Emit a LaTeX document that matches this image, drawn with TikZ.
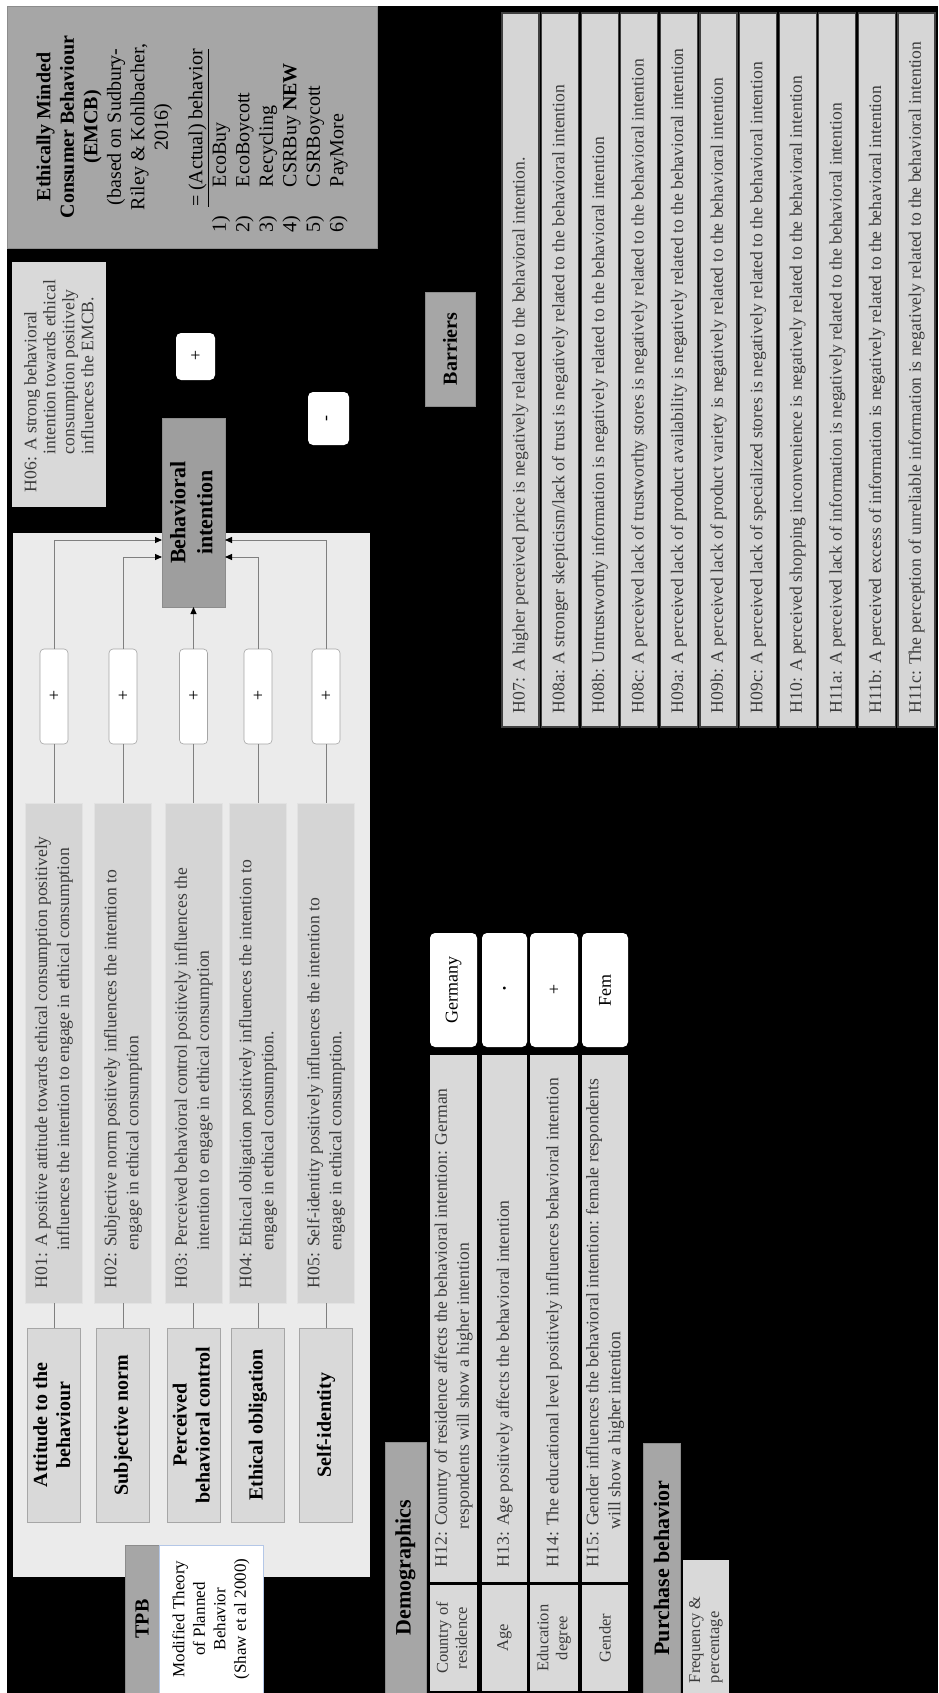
\documentclass[tikz,border=0pt]{standalone}
\usepackage{fontspec}
\setmainfont{Liberation Serif}
\usetikzlibrary{arrows.meta}
\definecolor{cHdr}{HTML}{A6A6A6}
\definecolor{cHdrLine}{HTML}{8C8C8C}
\definecolor{cBI}{HTML}{9E9E9E}
\definecolor{cLight}{HTML}{D9D9D9}
\definecolor{cHyp}{HTML}{D5D5D5}
\definecolor{cPanel}{HTML}{EBEBEB}
\definecolor{cCon}{HTML}{7F7F7F}
\definecolor{cTxt}{HTML}{3A3A3A}
\definecolor{cStrip}{HTML}{D6D6D6}
\definecolor{cStripLine}{HTML}{404040}
\definecolor{cBlue}{HTML}{B4C7E7}
\newcommand{\rt}[1]{\rotatebox{90}{#1}}
\newcommand{\fs}[2]{\fontsize{#1}{#2}\selectfont}
\newcommand{\lines}[1]{\begin{tabular}{@{}c@{}}#1\end{tabular}}
\newcommand{\hyptext}[3]{\rt{\parbox{#1pt}{\raggedright\fs{17.6}{22}\color{cTxt}#2\\\hspace*{38pt}#3}}}
\newcommand{\onetext}[2]{\rt{\parbox{#1pt}{\raggedright\fs{17.6}{22}\color{cTxt}#2}}}
\begin{document}
\begin{tikzpicture}[x=1pt,y=-1pt,
 every node/.style={inner sep=0pt,outer sep=0pt},
 sz/.style 2 args={minimum width=#1pt,minimum height=#2pt},
 hdr/.style={fill=cHdr,draw=cHdrLine,line width=0.8pt},
 cell/.style={fill=cLight},
 hypbox/.style={fill=cHyp,draw=cHyp!70!white,line width=0.6pt},
 conbox/.style={fill=cLight,draw=cHdr,line width=0.6pt},
 valbox/.style={fill=white,rounded corners=5pt},
 plusbox/.style={fill=white,draw=cCon!70,line width=0.6pt,rounded corners=4pt},
 strip/.style={fill=cStrip,draw=cStripLine,line width=1.2pt},
 conn/.style={draw=cCon,line width=1pt},
 arr/.style={conn,-{Triangle[length=7pt,width=6pt,color=black]}}
]
\fill[white] (0,0) rectangle (938,1693);
\fill[black] (7,6) rectangle (938,1693);
\useasboundingbox (0,0) rectangle (938,1693);

% EMCB
\node[hdr,sz={370}{242}] (emcb) at (192,127) {\rt{\parbox{212pt}{\fs{20}{23.5}%
{\centering\bfseries Ethically Minded\\Consumer Behaviour\\(EMCB)\par}%
{\centering (based on Sudbury-\\Riley \& Kohlbacher,\\2016)\par}%
\vspace{11pt}%
\raggedright\hspace*{26pt}\underline{= (Actual) behavior}\\
\makebox[46pt][l]{1)}EcoBuy\\
\makebox[46pt][l]{2)}EcoBoycott\\
\makebox[46pt][l]{3)}Recycling\\
\makebox[46pt][l]{4)}CSRBuy \textbf{NEW}\\
\makebox[46pt][l]{5)}CSRBoycott\\
\makebox[46pt][l]{6)}PayMore}}};

% H06
\node[fill=cLight,sz={94}{245}] (h06) at (59,384.5) {\rt{\parbox{215pt}{\raggedright\fs{17.6}{19}\color{cTxt}H06: A strong behavioral\\\hspace*{38pt}intention towards ethical\\\hspace*{38pt}consumption positively\\\hspace*{38pt}influences the EMCB.}}};

\node[valbox,sz={39}{47}] (plusbi) at (195.5,356.5) {\fs{18}{20}+};
\node[valbox,sz={41}{53}] (minusbi) at (328.5,418.5) {\rt{\fs{18}{20}-}};
\node[hdr,sz={50}{114}] (barriers) at (450,349) {\rt{\fs{20}{22}\bfseries Barriers}};

% TPB panel
\node[fill=cPanel,sz={357}{1044}] (panel) at (191.5,1055) {};
\node[fill=cBI,draw=cHdrLine,line width=0.8pt,sz={63}{189}] (bi) at (193.5,512.5) {\rt{\fs{22}{27}\bfseries\lines{Behavioral\\intention}}};

\node[plusbox,sz={28}{95}] (p1) at (54,696.5) {\fs{18}{20}+};
\node[plusbox,sz={28}{95}] (p2) at (123,696.5) {\fs{18}{20}+};
\node[plusbox,sz={28}{95}] (p3) at (193.5,696.5) {\fs{18}{20}+};
\node[plusbox,sz={28}{95}] (p4) at (258,696.5) {\fs{18}{20}+};
\node[plusbox,sz={28}{95}] (p5) at (326,696.5) {\fs{18}{20}+};

\node[hypbox,sz={57}{500}] (h1) at (54,1053) {\hyptext{470}{H01: A positive attitude towards ethical consumption positively}{influences the intention to engage in ethical consumption}};
\node[hypbox,sz={57}{500}] (h2) at (123,1053) {\hyptext{470}{H02: Subjective norm positively influences the intention to}{engage in ethical consumption}};
\node[hypbox,sz={57}{500}] (h3) at (193.5,1053) {\hyptext{470}{H03: Perceived behavioral control positively influences the}{intention to engage in ethical consumption}};
\node[hypbox,sz={57}{500}] (h4) at (258,1053) {\hyptext{470}{H04: Ethical obligation positively influences the intention to}{engage in ethical consumption.}};
\node[hypbox,sz={57}{500}] (h5) at (326,1053) {\hyptext{470}{H05: Self-identity positively influences the intention to}{engage in ethical consumption.}};

\node[conbox,sz={53}{194}] (c1) at (54,1425) {\rt{\fs{20}{23}\bfseries\lines{Attitude to the\\behaviour}}};
\node[conbox,sz={53}{194}] (c2) at (123,1425) {\rt{\fs{20}{23}\bfseries Subjective norm}};
\node[conbox,sz={53}{194}] (c3) at (193.5,1425) {\rt{\fs{20}{23}\bfseries\lines{Perceived\\behavioral control}}};
\node[conbox,sz={53}{194}] (c4) at (258,1425) {\rt{\fs{20}{23}\bfseries Ethical obligation}};
\node[conbox,sz={53}{194}] (c5) at (326,1425) {\rt{\fs{20}{23}\bfseries Self-identity}};

\coordinate (ya) at (0,540);
\coordinate (yb) at (0,557);
\foreach \k in {1,...,5} {
  \draw[conn] (c\k.north) -- (h\k.south);
  \draw[conn] (h\k.north) -- (p\k.south);
}
\draw[arr] (p1.north) |- (bi.west |- ya);
\draw[arr] (p2.north) |- (bi.west |- yb);
\draw[arr] (p3.north) -- (bi.south);
\draw[arr] (p4.north) |- (bi.east |- yb);
\draw[arr] (p5.north) |- (bi.east |- ya);

\node[hdr,sz={34}{148}] (tpb) at (142,1619) {\rt{\fs{20}{22}\bfseries TPB}};
\node[fill=white,draw=cBlue,line width=1pt,sz={104}{148}] (mtpb) at (211,1619) {\rt{\fs{17}{20.5}\lines{Modified Theory\\of Planned\\Behavior\\(Shaw et al 2000)}}};

% Demographics
\node[hdr,sz={41}{251}] (demo) at (405.5,1567.5) {\rt{\fs{22}{24}\bfseries Demographics}};
\node[cell,sz={47}{106}] (l1) at (453.5,1638) {\rt{\fs{16.5}{19}\color{cTxt}\lines{Country of\\residence}}};
\node[cell,sz={47}{527}] (d1) at (453.5,1318.5) {\hyptext{497}{H12: Country of residence affects the behavioral intention: German}{respondents will show a higher intention}};
\node[valbox,sz={47}{114}] (v1) at (453.5,990) {\rt{\fs{18}{20}Germany}};

\node[cell,sz={45}{106}] (l2) at (504.5,1638) {\rt{\fs{16.5}{19}\color{cTxt}Age}};
\node[cell,sz={45}{527}] (d2) at (504.5,1318.5) {\onetext{497}{H13: Age positively affects the behavioral intention}};
\node[valbox,sz={45}{114}] (v2) at (504.5,990) {\fs{12}{14}•};

\node[cell,sz={48}{106}] (l3) at (554,1638) {\rt{\fs{16.5}{19}\color{cTxt}\lines{Education\\degree}}};
\node[cell,sz={48}{527}] (d3) at (554,1318.5) {\onetext{497}{H14: The educational level positively influences behavioral intention}};
\node[valbox,sz={48}{114}] (v3) at (554,990) {\fs{18}{20}+};

\node[cell,sz={46}{106}] (l4) at (605,1638) {\rt{\fs{16.5}{19}\color{cTxt}Gender}};
\node[cell,sz={46}{527}] (d4) at (605,1318.5) {\hyptext{497}{H15: Gender influences the behavioral intention: female respondents}{will show a higher intention}};
\node[valbox,sz={46}{114}] (v4) at (605,990) {\rt{\fs{18}{20}Fem}};

% Purchase behavior
\node[hdr,sz={37}{250}] (purch) at (661.5,1568) {\rt{\fs{22}{24}\bfseries Purchase behavior}};
\node[cell,sz={46}{133}] (freq) at (706,1626.5) {\rt{\parbox{113pt}{\raggedright\fs{16.5}{19}\color{cTxt}Frequency \&\\percentage}}};

% Barrier hypotheses
\foreach \i/\t in {
 0/{H07: A higher perceived price is negatively related to the behavioral intention.},
 1/{H08a: A stronger skepticism/lack of trust is negatively related to the behavioral intention},
 2/{H08b: Untrustworthy information is negatively related to the behavioral intention},
 3/{H08c: A perceived lack of trustworthy stores is negatively related to the behavioral intention},
 4/{H09a: A perceived lack of product availability is negatively related to the behavioral intention},
 5/{H09b: A perceived lack of product variety is negatively related to the behavioral intention},
 6/{H09c: A perceived lack of specialized stores is negatively related to the behavioral intention},
 7/{H10: A perceived shopping inconvenience is negatively related to the behavioral intention},
 8/{H11a: A perceived lack of information is negatively related to the behavioral intention},
 9/{H11b: A perceived excess of information is negatively related to the behavioral intention},
 10/{H11c: The perception of unreliable information is negatively related to the behavioral intention}} {
  \node[strip,sz={37}{714}] (b\i) at ({520.5+39.6*\i},370) {\rt{\parbox{686pt}{\raggedright\fs{17.6}{20}\color{cTxt}\t}}};
}
\end{tikzpicture}
\end{document}
